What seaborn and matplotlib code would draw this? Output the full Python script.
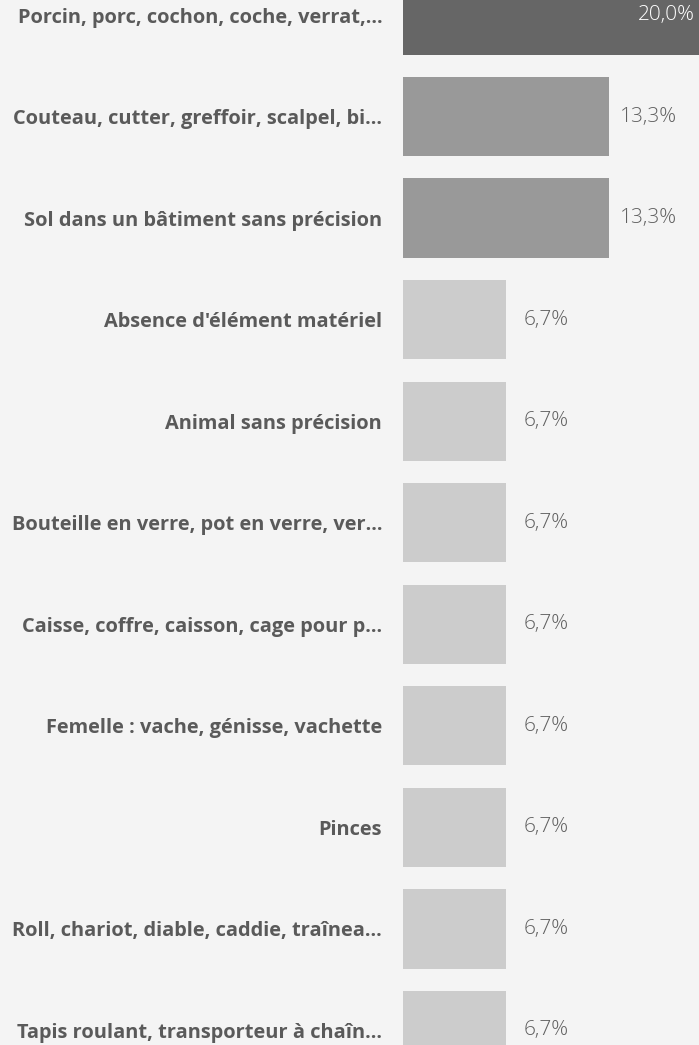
import matplotlib
matplotlib.use('Agg')
import matplotlib.pyplot as plt
import matplotlib.transforms as mtransforms
import seaborn as sns

labels = ['Porcin, porc, cochon, coche, verrat,...',
          'Couteau, cutter, greffoir, scalpel, bi...',
          'Sol dans un bâtiment sans précision',
          "Absence d'élément matériel",
          'Animal sans précision',
          'Bouteille en verre, pot en verre, ver...',
          'Caisse, coffre, caisson, cage pour p...',
          'Femelle : vache, génisse, vachette',
          'Pinces',
          'Roll, chariot, diable, caddie, traînea...',
          'Tapis roulant, transporteur à chaîn...']
values = [20.0, 13.33, 13.33, 6.67, 6.67, 6.67, 6.67, 6.67, 6.67, 6.67, 6.67]
value_text = ['20,0%', '13,3%', '13,3%', '6,7%', '6,7%', '6,7%', '6,7%',
              '6,7%', '6,7%', '6,7%', '6,7%']
colors = ['#666666', '#999999', '#999999'] + ['#cccccc'] * 8

bg = '#f4f4f4'
sns.set_style('white')
plt.rcParams['font.family'] = ['Open Sans', 'DejaVu Sans']

W, H = 699, 1045
fig = plt.figure(figsize=(W / 100, H / 100), dpi=100, facecolor=bg)
x0 = 403
ax = fig.add_axes([x0 / W, 0, (W - x0) / W, 1])
ax.set_facecolor(bg)

sns.barplot(x=values, y=labels, hue=labels, palette=colors, legend=False,
            width=0.78, saturation=1, linewidth=0, ax=ax)

px = 15.45  # pixels per percent
ax.set_xlim(0, (W - x0) / px)
step = 101.55
ax.set_ylim(10 + (H - 1030.5) / step, -15 / step)

for s in ax.spines.values():
    s.set_visible(False)
ax.set_xticks([])
ax.set_xlabel('')
ax.set_ylabel('')
ax.tick_params(axis='y', length=0, pad=15)
for t in ax.get_yticklabels():
    t.set_fontweight('bold')
    t.set_fontsize(14.4)
    t.set_color('#5a5a5a')

for i, (v, txt) in enumerate(zip(values, value_text)):
    if i == 0:
        ax.text(0.985, i, txt, transform=mtransforms.blended_transform_factory(ax.transAxes, ax.transData),
                ha='right', va='center', color='white', fontsize=15, fontweight='light')
    else:
        off = mtransforms.offset_copy(ax.transData, fig=fig, x=40, y=0, units='dots')
        ax.text(v, i, txt, transform=off, ha='center', va='center',
                color='#606060', fontsize=15, fontweight='light')

fig.savefig('out.png', dpi=100, facecolor=bg)
